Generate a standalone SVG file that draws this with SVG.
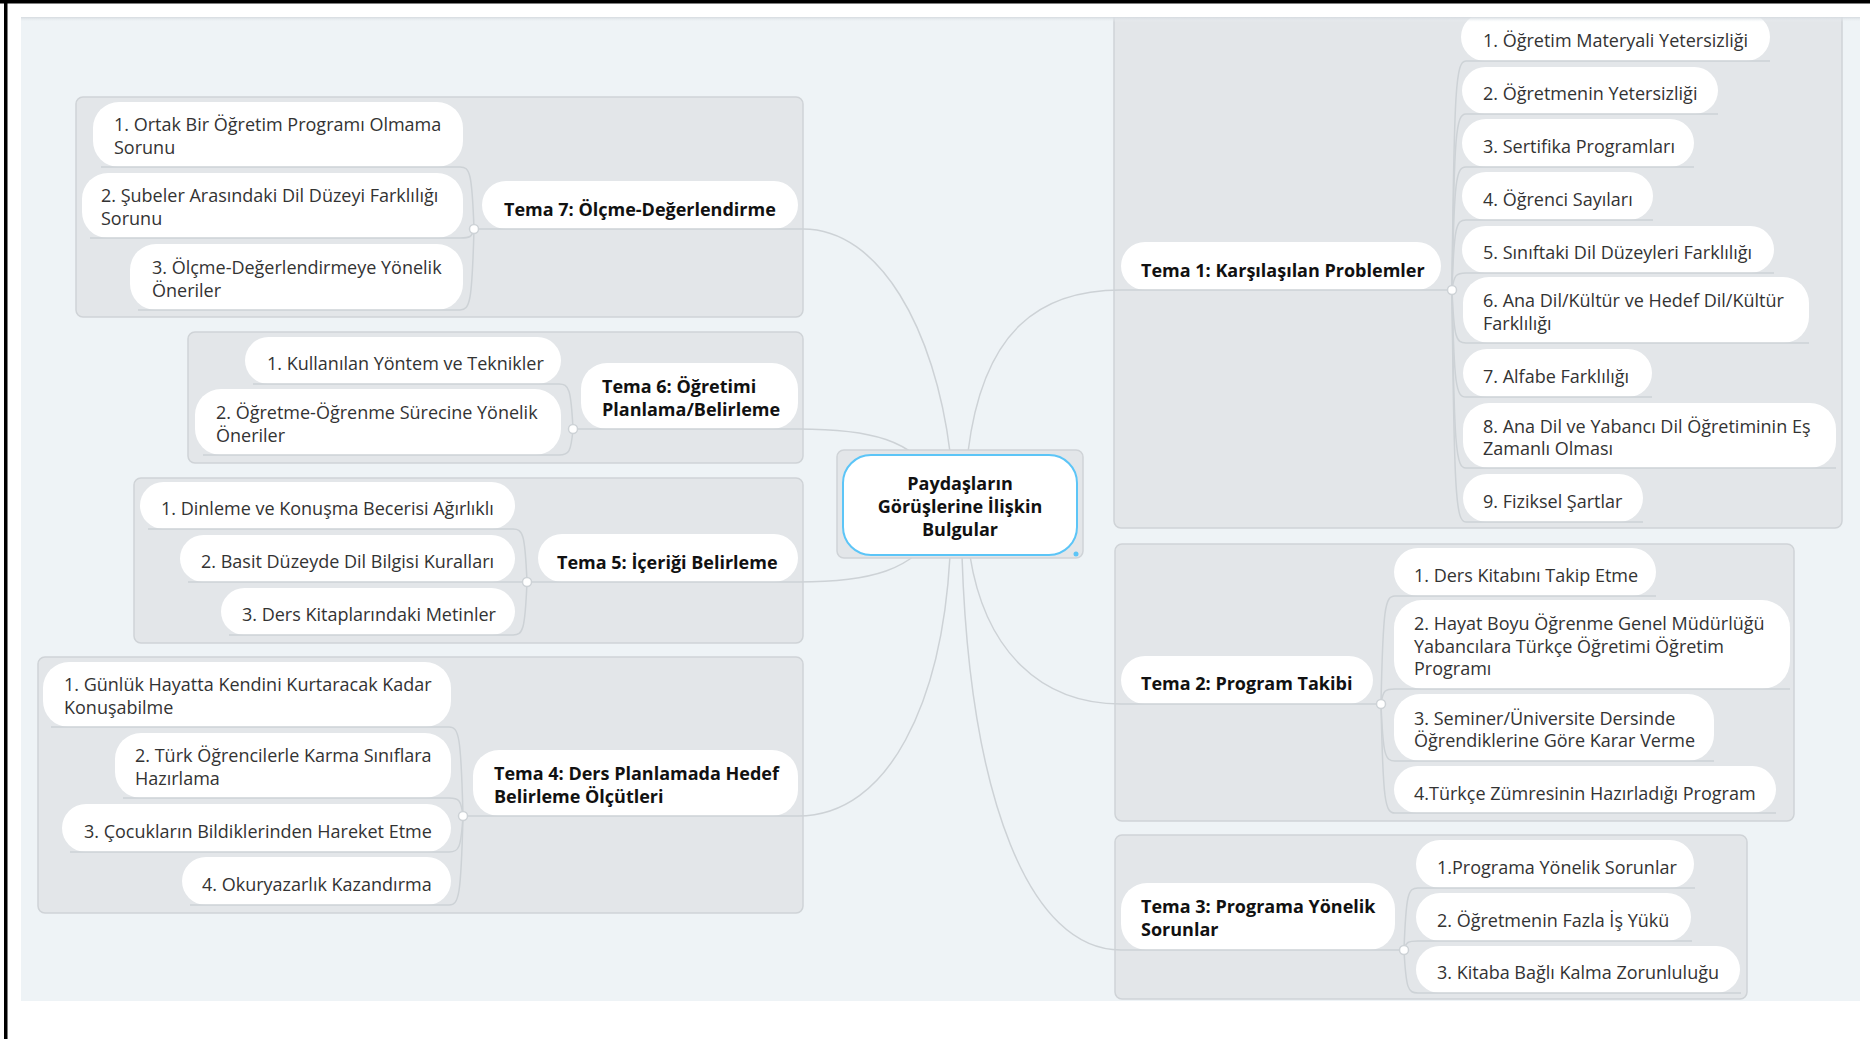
<svg xmlns="http://www.w3.org/2000/svg" width="1870" height="1039" viewBox="0 0 1870 1039">
<style>
.box{fill:#e3e6e9;stroke:#cfd3d7;stroke-width:1.5}
.pill{fill:#ffffff}
.t{font-family:"Open Sans","Noto Sans","DejaVu Sans",sans-serif;font-size:18px;fill:#333333}
.tb{font-family:"Open Sans","Noto Sans","DejaVu Sans",sans-serif;font-size:18px;font-weight:bold;fill:#111111}
.ln{fill:none;stroke:#cdd2d6;stroke-width:1.5}
.dot{fill:#ffffff;stroke:#cdd2d6;stroke-width:1.5}
</style>
<defs>
<clipPath id="view"><rect x="21" y="17" width="1839" height="984"/></clipPath>
<linearGradient id="shadow" x1="0" y1="0" x2="0" y2="1">
<stop offset="0" stop-color="#d5dadf"/>
<stop offset="1" stop-color="#eef3f6" stop-opacity="0"/>
</linearGradient>
</defs>
<rect width="1870" height="1039" fill="#ffffff"/>
<rect x="0" y="0" width="1870" height="3.5" fill="#000000"/>
<rect x="4" y="0" width="3.5" height="1039" fill="#000000"/>
<rect x="21" y="17" width="1839" height="984" fill="#eef3f6"/>
<g clip-path="url(#view)">
<g id="boxes">
<rect class="box" x="76" y="97" width="727" height="220" rx="7"/>
<rect class="box" x="188" y="332" width="615" height="131" rx="7"/>
<rect class="box" x="134" y="478" width="669" height="165" rx="7"/>
<rect class="box" x="38" y="657" width="765" height="256" rx="7"/>
<rect class="box" x="1114" y="-20" width="728" height="548" rx="7"/>
<rect class="box" x="1115" y="544" width="679" height="277" rx="7"/>
<rect class="box" x="1115" y="835" width="632" height="164" rx="7"/>
</g>

<g id="tema7">
<rect class="pill" x="482" y="181" width="316" height="48" rx="24"/>
<text class="tb" x="504" y="215.5">Tema 7: Ölçme-Değerlendirme</text>
</g>
<g id="t7c1"><rect class="pill" x="93" y="102" width="370" height="65" rx="26"/><text class="t" x="114" y="131">1. Ortak Bir Öğretim Programı Olmama</text><text class="t" x="114" y="154">Sorunu</text></g>
<g id="t7c2"><rect class="pill" x="82" y="173" width="381" height="65" rx="26"/><text class="t" x="101" y="202">2. Şubeler Arasındaki Dil Düzeyi Farklılığı</text><text class="t" x="101" y="225">Sorunu</text></g>
<g id="t7c3"><rect class="pill" x="130" y="244" width="333" height="66" rx="26"/><text class="t" x="152" y="273.5">3. Ölçme-Değerlendirmeye Yönelik</text><text class="t" x="152" y="296.5">Öneriler</text></g>

<g id="tema6">
<rect class="pill" x="581" y="363" width="217" height="66" rx="26"/>
<text class="tb" x="602" y="393">Tema 6: Öğretimi</text>
<text class="tb" x="602" y="415.5">Planlama/Belirleme</text>
</g>
<g id="t6c1"><rect class="pill" x="245" y="337" width="316" height="47" rx="23.5"/><text class="t" x="267" y="370">1. Kullanılan Yöntem ve Teknikler</text></g>
<g id="t6c2"><rect class="pill" x="195" y="389" width="366" height="66" rx="26"/><text class="t" x="216" y="419">2. Öğretme-Öğrenme Sürecine Yönelik</text><text class="t" x="216" y="441.5">Öneriler</text></g>

<g id="tema5">
<rect class="pill" x="538" y="534" width="260" height="48" rx="24"/>
<text class="tb" x="557" y="568.5">Tema 5: İçeriği Belirleme</text>
</g>
<g id="t5c1"><rect class="pill" x="140" y="482" width="375" height="47" rx="23.5"/><text class="t" x="161" y="515">1. Dinleme ve Konuşma Becerisi Ağırlıklı</text></g>
<g id="t5c2"><rect class="pill" x="180" y="535" width="335" height="47" rx="23.5"/><text class="t" x="201" y="568">2. Basit Düzeyde Dil Bilgisi Kuralları</text></g>
<g id="t5c3"><rect class="pill" x="221" y="588" width="294" height="47" rx="23.5"/><text class="t" x="242" y="621">3. Ders Kitaplarındaki Metinler</text></g>

<g id="tema4">
<rect class="pill" x="473" y="750" width="325" height="66" rx="26"/>
<text class="tb" x="494" y="779.5">Tema 4: Ders Planlamada Hedef</text>
<text class="tb" x="494" y="802.5">Belirleme Ölçütleri</text>
</g>
<g id="t4c1"><rect class="pill" x="43" y="662" width="408" height="65" rx="26"/><text class="t" x="64" y="691">1. Günlük Hayatta Kendini Kurtaracak Kadar</text><text class="t" x="64" y="714">Konuşabilme</text></g>
<g id="t4c2"><rect class="pill" x="115" y="733" width="336" height="65" rx="26"/><text class="t" x="135" y="762">2. Türk Öğrencilerle Karma Sınıflara</text><text class="t" x="135" y="785">Hazırlama</text></g>
<g id="t4c3"><rect class="pill" x="62" y="804" width="389" height="48" rx="24"/><text class="t" x="84" y="837.5">3. Çocukların Bildiklerinden Hareket Etme</text></g>
<g id="t4c4"><rect class="pill" x="182" y="857" width="269" height="48" rx="24"/><text class="t" x="202" y="890.5">4. Okuryazarlık Kazandırma</text></g>

<g id="tema1">
<rect class="pill" x="1121" y="242" width="320" height="48" rx="24"/>
<text class="tb" x="1141" y="276.5">Tema 1: Karşılaşılan Problemler</text>
</g>
<g id="t1c1"><rect class="pill" x="1461" y="13" width="309" height="48" rx="24"/><text class="t" x="1483" y="46.5">1. Öğretim Materyali Yetersizliği</text></g>
<g id="t1c2"><rect class="pill" x="1462" y="67" width="256" height="47" rx="23.5"/><text class="t" x="1483" y="100">2. Öğretmenin Yetersizliği</text></g>
<g id="t1c3"><rect class="pill" x="1462" y="119" width="232" height="48" rx="24"/><text class="t" x="1483" y="152.5">3. Sertifika Programları</text></g>
<g id="t1c4"><rect class="pill" x="1462" y="172" width="191" height="48" rx="24"/><text class="t" x="1483" y="205.5">4. Öğrenci Sayıları</text></g>
<g id="t1c5"><rect class="pill" x="1462" y="226" width="312" height="47" rx="23.5"/><text class="t" x="1483" y="259">5. Sınıftaki Dil Düzeyleri Farklılığı</text></g>
<g id="t1c6"><rect class="pill" x="1463" y="277" width="346" height="66" rx="26"/><text class="t" x="1483" y="307">6. Ana Dil/Kültür ve Hedef Dil/Kültür</text><text class="t" x="1483" y="329.5">Farklılığı</text></g>
<g id="t1c7"><rect class="pill" x="1463" y="349" width="189" height="48" rx="24"/><text class="t" x="1483" y="382.5">7. Alfabe Farklılığı</text></g>
<g id="t1c8"><rect class="pill" x="1463" y="403" width="373" height="65" rx="26"/><text class="t" x="1483" y="432.5">8. Ana Dil ve Yabancı Dil Öğretiminin Eş</text><text class="t" x="1483" y="455">Zamanlı Olması</text></g>
<g id="t1c9"><rect class="pill" x="1463" y="474" width="180" height="48" rx="24"/><text class="t" x="1483" y="507.5">9. Fiziksel Şartlar</text></g>

<g id="tema2">
<rect class="pill" x="1121" y="656" width="252" height="48" rx="24"/>
<text class="tb" x="1141" y="689.5">Tema 2: Program Takibi</text>
</g>
<g id="t2c1"><rect class="pill" x="1394" y="548" width="262" height="48" rx="24"/><text class="t" x="1414" y="581.5">1. Ders Kitabını Takip Etme</text></g>
<g id="t2c2"><rect class="pill" x="1394" y="600" width="396" height="89" rx="28"/><text class="t" x="1414" y="630">2. Hayat Boyu Öğrenme Genel Müdürlüğü</text><text class="t" x="1414" y="652.5">Yabancılara Türkçe Öğretimi Öğretim</text><text class="t" x="1414" y="675">Programı</text></g>
<g id="t2c3"><rect class="pill" x="1394" y="694" width="320" height="67" rx="26"/><text class="t" x="1414" y="724.5">3. Seminer/Üniversite Dersinde</text><text class="t" x="1414" y="747">Öğrendiklerine Göre Karar Verme</text></g>
<g id="t2c4"><rect class="pill" x="1394" y="766" width="382" height="47" rx="23.5"/><text class="t" x="1414" y="799.5">4.Türkçe Zümresinin Hazırladığı Program</text></g>

<g id="tema3">
<rect class="pill" x="1121" y="883" width="274" height="67" rx="26"/>
<text class="tb" x="1141" y="912.5">Tema 3: Programa Yönelik</text>
<text class="tb" x="1141" y="935.5">Sorunlar</text>
</g>
<g id="t3c1"><rect class="pill" x="1416" y="840" width="278" height="48" rx="24"/><text class="t" x="1437" y="873.5">1.Programa Yönelik Sorunlar</text></g>
<g id="t3c2"><rect class="pill" x="1416" y="893" width="275" height="48" rx="24"/><text class="t" x="1437" y="926.5">2. Öğretmenin Fazla İş Yükü</text></g>
<g id="t3c3"><rect class="pill" x="1416" y="946" width="324" height="47" rx="23.5"/><text class="t" x="1437" y="979">3. Kitaba Bağlı Kalma Zorunluluğu</text></g>

<g id="connectors">
<path class="ln" d="M950,452 C935,330 880,229 803,229 H474"/>
<path class="ln" d="M935,480 C915,440 870,429 798,429 H573"/>
<path class="ln" d="M935,530 C915,570 870,582 798,582 H527"/>
<path class="ln" d="M950,556 C942,700 890,816 798,816 H463"/>
<path class="ln" d="M968,452 C983,330 1040,290 1121,290 H1452"/>
<path class="ln" d="M970,556 C985,650 1040,704 1121,704 H1381"/>
<path class="ln" d="M962,556 C970,800 1030,950 1121,950 H1404"/>

<path class="ln" d="M474,229 C472,173 470,167 460,167 H101"/>
<path class="ln" d="M474,229 C472,237 470,238 460,238 H90"/>
<path class="ln" d="M474,229 C472,302 470,310 460,310 H138"/>

<path class="ln" d="M573,429 C571,389 569,384 559,384 H253"/>
<path class="ln" d="M573,429 C571,452 569,455 559,455 H203"/>

<path class="ln" d="M527,582 C525,534 523,529 513,529 H148"/>
<path class="ln" d="M527,582 H188"/>
<path class="ln" d="M527,582 C525,630 523,635 513,635 H229"/>

<path class="ln" d="M463,816 C461,736 459,727 449,727 H51"/>
<path class="ln" d="M463,816 C461,800 459,798 449,798 H123"/>
<path class="ln" d="M463,816 C461,848 459,852 449,852 H70"/>
<path class="ln" d="M463,816 C461,896 459,905 449,905 H190"/>

<path class="ln" d="M1452,290 C1454,84 1456,61 1466,61 H1770"/>
<path class="ln" d="M1452,290 C1454,132 1456,114 1466,114 H1718"/>
<path class="ln" d="M1452,290 C1454,179 1456,167 1466,167 H1694"/>
<path class="ln" d="M1452,290 C1454,227 1456,220 1466,220 H1653"/>
<path class="ln" d="M1452,290 C1454,275 1456,273 1466,273 H1774"/>
<path class="ln" d="M1452,290 C1454,338 1456,343 1466,343 H1809"/>
<path class="ln" d="M1452,290 C1454,386 1456,397 1466,397 H1652"/>
<path class="ln" d="M1452,290 C1454,450 1456,468 1466,468 H1836"/>
<path class="ln" d="M1452,290 C1454,499 1456,522 1466,522 H1643"/>

<path class="ln" d="M1381,704 C1383,607 1385,596 1395,596 H1656"/>
<path class="ln" d="M1381,704 C1383,690 1385,689 1395,689 H1790"/>
<path class="ln" d="M1381,704 C1383,755 1385,761 1395,761 H1714"/>
<path class="ln" d="M1381,704 C1383,802 1385,813 1395,813 H1776"/>

<path class="ln" d="M1404,950 C1406,894 1408,888 1418,888 H1695"/>
<path class="ln" d="M1404,950 C1406,942 1408,941 1418,941 H1692"/>
<path class="ln" d="M1404,950 C1406,989 1408,993 1418,993 H1741"/>

<circle class="dot" cx="474" cy="229" r="4.5"/>
<circle class="dot" cx="573" cy="429" r="4.5"/>
<circle class="dot" cx="527" cy="582" r="4.5"/>
<circle class="dot" cx="463" cy="816" r="4.5"/>
<circle class="dot" cx="1452" cy="290" r="4.5"/>
<circle class="dot" cx="1381" cy="704" r="4.5"/>
<circle class="dot" cx="1404" cy="950" r="4.5"/>
</g>

<g id="center">
<rect class="box" x="837" y="450" width="246" height="108" rx="7"/>
<rect x="843" y="455" width="234" height="100" rx="28" fill="#ffffff" stroke="#5cc5f7" stroke-width="2"/>
<circle cx="1076" cy="554" r="2.5" fill="#5cc5f7"/>
<text class="tb" x="960" y="490" text-anchor="middle">Paydaşların</text>
<text class="tb" x="960" y="513" text-anchor="middle">Görüşlerine İlişkin</text>
<text class="tb" x="960" y="536" text-anchor="middle">Bulgular</text>
</g>
<rect x="21" y="17" width="1839" height="5" fill="url(#shadow)"/>
</g>
</svg>
